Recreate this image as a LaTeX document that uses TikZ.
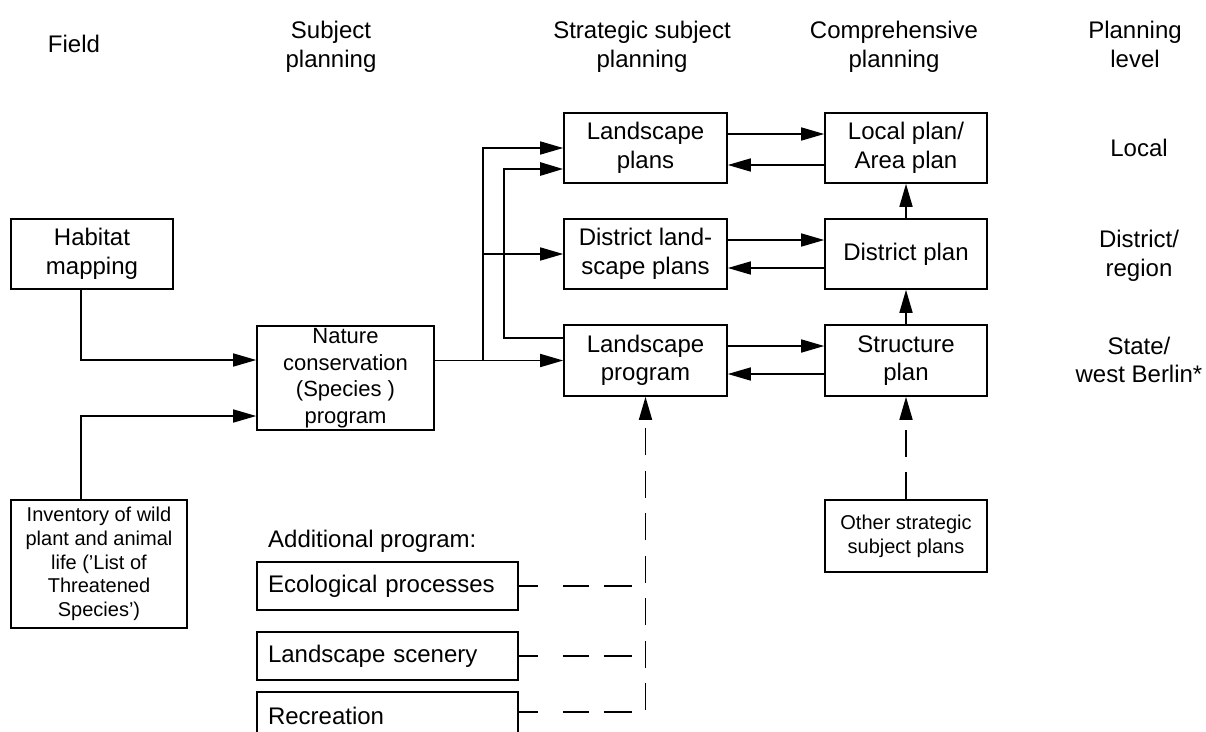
\documentclass[tikz,border=0pt]{standalone}
\usepackage{fontspec}
\setmainfont{Liberation Sans}
\usetikzlibrary{arrows.meta,calc}
\newcommand\fbig{\fontsize{24}{28.5}\selectfont}
\newcommand\fnat{\fontsize{22}{26.5}\selectfont}
\newcommand\fsmall{\fontsize{20}{23.7}\selectfont}
\begin{document}
\begin{tikzpicture}[x=1pt,y=-1pt,
  box/.style={draw, line width=1.6pt, inner sep=0pt, align=center, font=\fbig,
    minimum width=163pt, minimum height=70pt},
  progbox/.style={box, minimum height=48pt, text width=239pt, inner xsep=11pt, align=left},
  head/.style={inner sep=0pt, align=center, font=\fbig},
  head2/.style={head, text depth=5pt},
  conn/.style={line width=1.6pt},
  boldconn/.style={line width=2.6pt},
  arr/.style={-{Triangle[length=23pt,width=13pt]}},
  vdash/.style={conn, dash pattern=on 27pt off 15.5pt},
  hdash/.style={conn, dash pattern=on 19pt off 25pt on 26pt off 15pt on 30pt off 10pt}]
\useasboundingbox (0,0) rectangle (1206,731);
\fill[white] (0,0) rectangle (1206,731);
\clip (0,0) rectangle (1206,731);

% column and row headings
\node[head] (hfield) at (74,44) {Field};
\node[head2] (hsubj) at (331,47) {Subject\\planning};
\node[head2] (hstrat) at (642,47) {Strategic subject\\planning};
\node[head2] (hcomp) at (894,47) {Comprehensive\\planning};
\node[head2] (hlevel) at (1135,47) {Planning\\level};
\node[head] (rlocal) at (1139,148) {Local};
\node[head] (rdist) at (1139,256) {District/\\region};
\node[head] (rstate) at (1139,360) {State/\\west Berlin*};

% field
\node[box, minimum width=162pt] (hab) at (92,254) {Habitat\\mapping};
\node[box, minimum width=176pt, minimum height=128pt, font=\fsmall] (inv) at (99,564)
  {Inventory of wild\\plant and animal\\life ('List of\\Threatened\\Species')};

% subject planning
\node[box, minimum width=177pt, minimum height=104pt, font=\fnat] (nat) at (345.5,378)
  {Nature\\conservation\\(Species )\\program};

% strategic subject planning
\node[box] (lpl) at (645.5,148) {Landscape\\plans};
\node[box] (dlp) at (645.5,254) {District land-\\scape plans};
\node[box, minimum height=71pt] (lpr) at (645.5,360.5) {Landscape\\program};

% comprehensive planning
\node[box, minimum width=162pt] (loc) at (906,148) {Local plan/\\Area plan};
\node[box, minimum width=162pt] (dis) at (906,254) {District plan};
\node[box, minimum width=162pt, minimum height=71pt] (str) at (906,360.5) {Structure\\plan};
\node[box, minimum width=162pt, minimum height=72pt, font=\fsmall] (oth) at (906,536)
  {Other strategic\\subject plans};

% additional programs
\node[head, anchor=base west] (addl) at (268,547) {Additional program:};
\node[progbox] (eco) at (387.5,586) {Ecological processes};
\node[progbox] (sce) at (387.5,656) {Landscape scenery};
\node[progbox] (rec) at (387.5,716) {Recreation};

% helper points
\coordinate (br) at (483,360.5);
\coordinate (bend) at (504,338);
\coordinate (dcol) at (632,0);
\coordinate (dbot) at (0,710);

% inputs to the species program
\draw[conn, arr] ($(hab.south)+(-11,0)$) |- ($(nat.west)+(0,-18)$);
\draw[conn, arr] ($(inv.north)+(-18,0)$) |- ($(nat.west)+(0,38)$);

% species program to the strategic plans
\draw[conn, arr] (nat.east |- lpr.west) -- (lpr.west);
\draw[conn, arr] (br) |- (lpl.west);
\draw[conn, arr] (br |- dlp.west) -- (dlp.west);
\draw[boldconn, arr] (lpr.west |- bend) -- (bend) |- ($(lpl.west)+(0,21)$);

% exchanges with comprehensive planning
\draw[conn, arr] ($(lpl.east)+(0,-14)$) -- ($(loc.west)+(0,-14)$);
\draw[conn, arr] ($(loc.west)+(0,17)$) -- ($(lpl.east)+(0,17)$);
\draw[conn, arr] ($(dlp.east)+(0,-14)$) -- ($(dis.west)+(0,-14)$);
\draw[conn, arr] ($(dis.west)+(0,14)$) -- ($(dlp.east)+(0,14)$);
\draw[conn, arr] ($(lpr.east)+(0,-14.5)$) -- ($(str.west)+(0,-14.5)$);
\draw[conn, arr] ($(str.west)+(0,13.5)$) -- ($(lpr.east)+(0,13.5)$);

% upward chain of comprehensive plans
\draw[conn, arr] (dis.north) -- (loc.south);
\draw[conn, arr] (str.north) -- (dis.south);
\draw[vdash, arr] (oth.north) -- (str.south);

% additional programs feeding the landscape program
\draw[hdash] (eco.east) -- (eco.east -| dcol);
\draw[hdash] (sce.east) -- (sce.east -| dcol);
\draw[hdash] ($(rec.east)+(0,-4)$) -- ($(rec.east -| dcol)+(0,-4)$);
\draw[vdash, arr] (lpr.south |- dbot) -- (lpr.south);
\end{tikzpicture}
\end{document}
